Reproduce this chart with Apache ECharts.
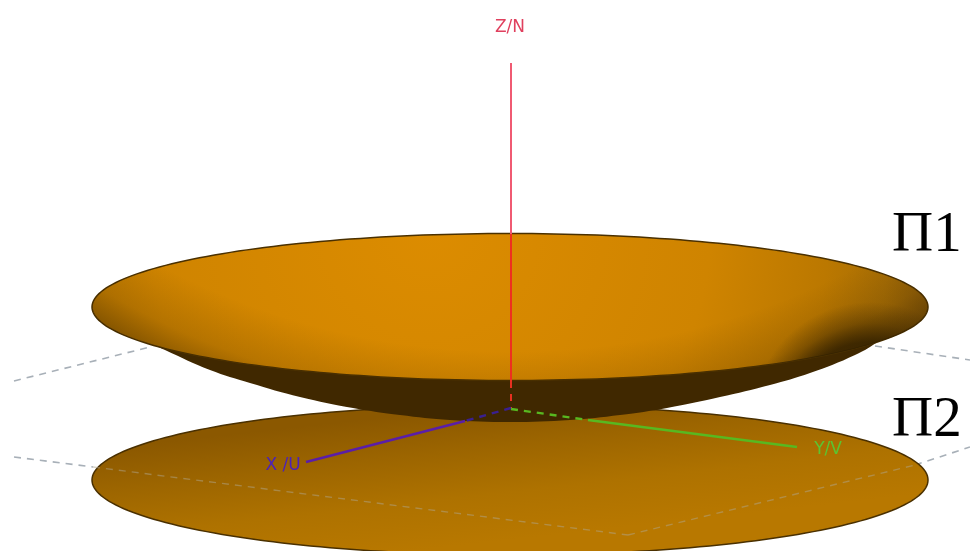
<!DOCTYPE html>
<html><head><meta charset="utf-8">
<style>html,body{margin:0;padding:0;background:#fff}#c{width:970px;height:551px}</style>
<script src="https://cdn.jsdelivr.net/npm/echarts@6/dist/echarts.min.js"></script>
</head><body><div id="c"></div>
<script>
// Picture units: x to the right, y downward.
const upperDisc = [510, 307, 418, 73.5];   // centre x, centre y, radius x, radius y
const lowerDisc = [510, 480, 418, 75];
const bowlOutline = [[125,322],[145,340],[165,350],[210,370],[250,383],[300,397],[353,408],[400,415],[450,420],[510,422],[570,420],[620,415],[667,408],[720,397],[770,385],[810,373],[855,355],[880,340],[900,322]];
const gridBackLeft = [[14,381],[150,347]];
const gridBackRight = [[875,346],[970,360]];
const gridFrontLeftOut = [[14,457],[93,467]];
const gridFrontLeftIn = [[93,467],[628,535]];
const gridFrontRightIn = [[628,535],[915,465]];
const gridFrontRightOut = [[915,465],[970,447]];
const zUpper = [[511,63],[511,234]];
const zOverDisc = [[511,234],[511,381]];
const zDashed = [[511,381],[511,408]];
const xSolid = [[465,421],[306,462]];
const xDashed = [[511,408],[465,421]];
const ySolid = [[588,420],[797,447]];
const yDashed = [[511,409],[588,420]];
const axisLabels = [['Z/N',510,28,'#e0405e'],['X /U',283,466,'#4c22b8'],['Y/V',828,450,'#5cc430']];
const planeLabels = [['Π1',892,253],['Π2',892,438]];

function ellipsePts(api, d){
  const pts=[];
  for(let i=0;i<240;i++){
    const t=i/240*Math.PI*2;
    pts.push(api.coord([d[0]+d[2]*Math.cos(t), d[1]+d[3]*Math.sin(t)]));
  }
  return pts;
}
function one(render){ return {type:'custom',coordinateSystem:'cartesian2d',silent:true,data:[[0,0]],renderItem:render,clip:false}; }
function radial(api,x,y,r,stops){const p=api.coord([x,y]);return {type:'radial',x:p[0],y:p[1],r:r,global:true,colorStops:stops};}
function linear(api,a,b,stops){const p=api.coord(a),q=api.coord(b);return {type:'linear',x:p[0],y:p[1],x2:q[0],y2:q[1],global:true,colorStops:stops};}
function poly(pts,fill,stroke,sm){return {type:'polygon',shape:{points:pts,smooth:sm||0},style:{fill:fill,stroke:stroke||null,lineWidth:stroke?1.5:0}};}
function seg(data,color,width,dash,z){
  return {type:'line',data:data,showSymbol:false,silent:true,z:z,animation:false,clip:true,
    lineStyle:{color:color,width:width,type:dash?[7,6]:'solid',cap:'butt'}};
}
function stops(a){return a.map(s=>({offset:s[0],color:s[1]}));}

const series=[
  seg(gridBackLeft,'#a8b0b8',1.6,true,1),
  seg(gridBackRight,'#a8b0b8',1.6,true,1),
  seg(gridFrontLeftOut,'#a8b0b8',1.6,true,1),
  seg(gridFrontRightOut,'#a8b0b8',1.6,true,1),
  Object.assign(one((p,api)=>poly(ellipsePts(api,lowerDisc),
    linear(api,[495,405],[510,540],stops([[0,'#8b5800'],[0.3,'#9c6500'],[0.65,'#ae7200'],[1,'#b87800']])),'#4a3000')),{z:2}),
  seg(gridFrontLeftIn,'rgba(175,165,140,0.5)',1.4,true,3),
  seg(gridFrontRightIn,'rgba(175,165,140,0.5)',1.4,true,3),
  Object.assign(one((p,api)=>poly(bowlOutline.map(q=>api.coord(q)),'#402800',null,0.4)),{z:4}),
  Object.assign(one((p,api)=>({type:'group',children:[
    poly(ellipsePts(api,upperDisc),radial(api,430,230,510,stops([[0,'#dc8c00'],[0.55,'#cf8400'],[0.78,'#bb7800'],[0.9,'#a86e04'],[1,'#8a5a08']])),'#4a3000'),
    poly(ellipsePts(api,upperDisc),radial(api,510,-400,835,stops([[0,'rgba(60,38,0,0)'],[0.9,'rgba(60,38,0,0)'],[0.96,'rgba(60,38,0,0.18)'],[1,'rgba(60,38,0,0.5)']])),null),
    poly(ellipsePts(api,upperDisc),radial(api,870,420,118,stops([[0,'rgba(50,32,0,0.9)'],[0.66,'rgba(50,32,0,0.85)'],[0.82,'rgba(50,32,0,0.35)'],[1,'rgba(50,32,0,0)']])),null)
  ]})),{z:5}),
  seg(zUpper,'#f05a72',2,false,6),
  seg(zOverDisc,'#ee3020',2,false,6),
  seg(zDashed,'#e83020',2,true,6),
  seg(xSolid,'#5a1ea8',2.4,false,6),
  seg(xDashed,'#3a2090',2.4,true,6),
  seg(ySolid,'#58b820',2.4,false,6),
  seg(yDashed,'#58b820',2.4,true,6),
  {type:'scatter',z:7,silent:true,symbolSize:0,itemStyle:{opacity:1},
   data:axisLabels.map(a=>({value:[a[1],a[2]],label:{show:true,position:'inside',formatter:a[0],color:a[3],opacity:1,fontSize:17,fontFamily:'DejaVu Sans, sans-serif',align:'center',verticalAlign:'middle'}}))},
  {type:'scatter',z:7,silent:true,symbolSize:0,itemStyle:{opacity:1},
   data:planeLabels.map(a=>({value:[a[1],a[2]],label:{show:true,position:'inside',formatter:a[0],color:'#000',opacity:1,fontSize:57,fontFamily:'Liberation Serif, serif',align:'left',verticalAlign:'bottom',lineHeight:57,offset:[0,12]}}))}
];
const chart=echarts.init(document.getElementById('c'),null,{renderer:'canvas'});
chart.setOption({
  animation:false,
  backgroundColor:'#fff',
  grid:{left:0,right:0,top:0,bottom:0},
  xAxis:{type:'value',min:0,max:970,show:false},
  yAxis:{type:'value',min:0,max:551,inverse:true,show:false},
  series:series
});
</script></body></html>
